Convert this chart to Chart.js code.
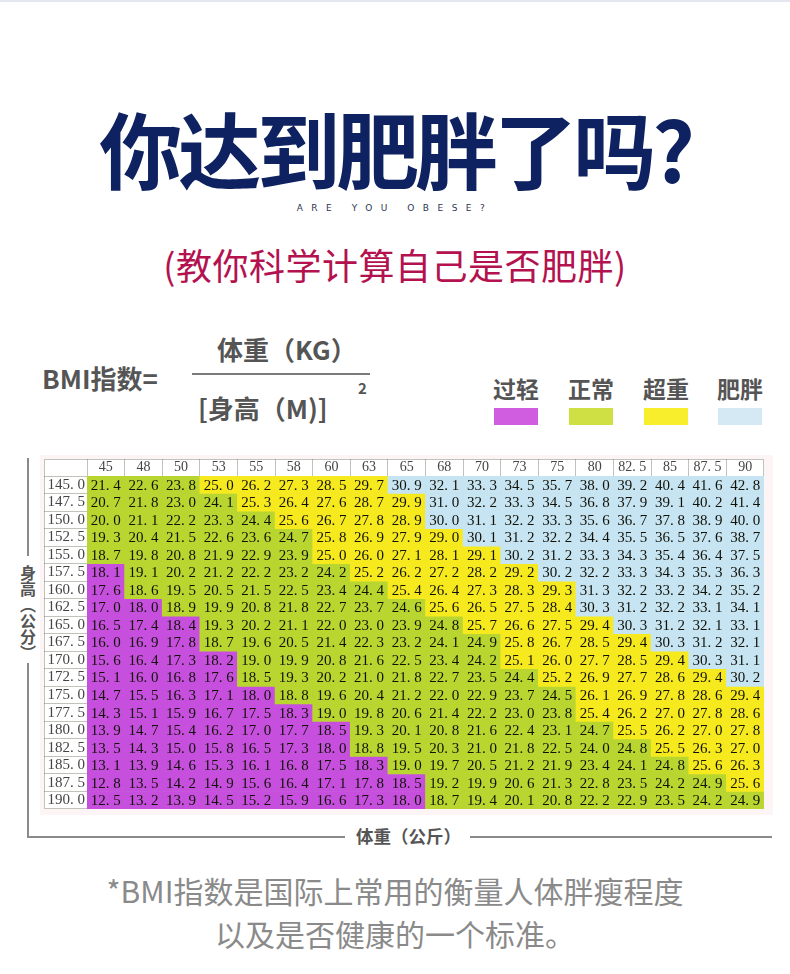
<!DOCTYPE html>
<html>
<head>
<meta charset="utf-8">
<script src="https://cdn.jsdelivr.net/npm/chart.js@4.4.0/dist/chart.umd.min.js"></script>
<style>
  body { margin: 0; width: 790px; height: 974px; background: #fff; position: relative; overflow: hidden;
         font-family: "Noto Sans CJK SC", "Noto Sans", sans-serif; }
  .abs { position: absolute; white-space: nowrap; }
  .center { left: 0; width: 790px; text-align: center; }
  #topline { left: 0; top: 0; width: 790px; height: 2px; background: #e4e7ef; }
  #title { top: 105px; font-size: 83px; line-height: 84px; font-weight: 700; color: #0e2160; letter-spacing: -4px; }
  #eng { top: 203px; font-size: 9px; line-height: 10px; color: #2d3550; letter-spacing: 8.5px; font-family: "DejaVu Sans", sans-serif; }
  #sub { top: 244px; font-size: 36px; line-height: 40px; color: #b3124f; letter-spacing: 0.5px; }
  .gray { color: #555; font-weight: 700; }
  #bmi { left: 42px; top: 364px; font-size: 26px; line-height: 28px; }
  #num { left: 217px; top: 335px; font-size: 26px; line-height: 28px; }
  #frac { left: 192px; top: 373px; width: 178px; height: 2px; background: #7a7a7a; }
  #den { left: 198px; top: 394px; font-size: 26px; line-height: 28px; }
  #sup { left: 358px; top: 380px; font-size: 15px; line-height: 16px; }
  .lg { top: 375px; width: 80px; text-align: center; font-size: 23px; line-height: 26px; }
  .sw { top: 408px; width: 44px; height: 17px; }
  #tableBg { left: 40px; top: 455px; width: 733px; height: 360px; background: #fcf4f5; }
  #chartBox { left: 44px; top: 459px; width: 720px; height: 350px; }
  .line { background: #8a8a8a; }
  #hLabel { left: 19px; top: 565px; font-size: 16px; line-height: 18px; writing-mode: vertical-rl; }
  #wLabel { left: 356px; top: 825px; font-size: 17.5px; line-height: 22px; }
  .foot { font-size: 30px; line-height: 34px; color: #8a8a8a; font-weight: 400; }
</style>
</head>
<body>
<div id="topline" class="abs"></div>
<div id="title" class="abs center">你达到肥胖了吗?</div>
<div id="eng" class="abs center">ARE YOU OBESE?</div>
<div id="sub" class="abs center">(教你科学计算自己是否肥胖)</div>

<div id="bmi" class="abs gray">BMI指数=</div>
<div id="num" class="abs gray">体重（KG）</div>
<div id="frac" class="abs"></div>
<div id="den" class="abs gray">[身高（M)]</div>
<div id="sup" class="abs gray">2</div>

<div id="legend"></div>

<div id="tableBg" class="abs"></div>
<div id="chartBox" class="abs"><canvas id="bmiChart"></canvas></div>

<div class="abs line" style="left:27px;top:458px;width:2px;height:98px"></div>
<div class="abs line" style="left:27px;top:663px;width:2px;height:175px"></div>
<div id="hLabel" class="abs gray">身高（公分）</div>
<div class="abs line" style="left:27px;top:836px;width:318px;height:2px"></div>
<div id="wLabel" class="abs gray">体重（公斤）</div>
<div class="abs line" style="left:470px;top:836px;width:302px;height:2px"></div>

<div class="abs center foot" style="top:873px">*BMI指数是国际上常用的衡量人体胖瘦程度</div>
<div class="abs center foot" style="top:916px">以及是否健康的一个标准。</div>

<script>
// body weight in kg (columns) and height in cm (rows)
const weights = ['45', '48', '50', '53', '55', '58', '60', '63', '65', '68', '70', '73', '75', '80', '82.5', '85', '87.5', '90'];
const heights = ['145.0', '147.5', '150.0', '152.5', '155.0', '157.5', '160.0', '162.5', '165.0', '167.5',
                 '170.0', '172.5', '175.0', '177.5', '180.0', '182.5', '185.0', '187.5', '190.0'];

// BMI values, one line per height row
const bmiValues = [
  [21.4, 22.6, 23.8, 25.0, 26.2, 27.3, 28.5, 29.7, 30.9, 32.1, 33.3, 34.5, 35.7, 38.0, 39.2, 40.4, 41.6, 42.8],
  [20.7, 21.8, 23.0, 24.1, 25.3, 26.4, 27.6, 28.7, 29.9, 31.0, 32.2, 33.3, 34.5, 36.8, 37.9, 39.1, 40.2, 41.4],
  [20.0, 21.1, 22.2, 23.3, 24.4, 25.6, 26.7, 27.8, 28.9, 30.0, 31.1, 32.2, 33.3, 35.6, 36.7, 37.8, 38.9, 40.0],
  [19.3, 20.4, 21.5, 22.6, 23.6, 24.7, 25.8, 26.9, 27.9, 29.0, 30.1, 31.2, 32.2, 34.4, 35.5, 36.5, 37.6, 38.7],
  [18.7, 19.8, 20.8, 21.9, 22.9, 23.9, 25.0, 26.0, 27.1, 28.1, 29.1, 30.2, 31.2, 33.3, 34.3, 35.4, 36.4, 37.5],
  [18.1, 19.1, 20.2, 21.2, 22.2, 23.2, 24.2, 25.2, 26.2, 27.2, 28.2, 29.2, 30.2, 32.2, 33.3, 34.3, 35.3, 36.3],
  [17.6, 18.6, 19.5, 20.5, 21.5, 22.5, 23.4, 24.4, 25.4, 26.4, 27.3, 28.3, 29.3, 31.3, 32.2, 33.2, 34.2, 35.2],
  [17.0, 18.0, 18.9, 19.9, 20.8, 21.8, 22.7, 23.7, 24.6, 25.6, 26.5, 27.5, 28.4, 30.3, 31.2, 32.2, 33.1, 34.1],
  [16.5, 17.4, 18.4, 19.3, 20.2, 21.1, 22.0, 23.0, 23.9, 24.8, 25.7, 26.6, 27.5, 29.4, 30.3, 31.2, 32.1, 33.1],
  [16.0, 16.9, 17.8, 18.7, 19.6, 20.5, 21.4, 22.3, 23.2, 24.1, 24.9, 25.8, 26.7, 28.5, 29.4, 30.3, 31.2, 32.1],
  [15.6, 16.4, 17.3, 18.2, 19.0, 19.9, 20.8, 21.6, 22.5, 23.4, 24.2, 25.1, 26.0, 27.7, 28.5, 29.4, 30.3, 31.1],
  [15.1, 16.0, 16.8, 17.6, 18.5, 19.3, 20.2, 21.0, 21.8, 22.7, 23.5, 24.4, 25.2, 26.9, 27.7, 28.6, 29.4, 30.2],
  [14.7, 15.5, 16.3, 17.1, 18.0, 18.8, 19.6, 20.4, 21.2, 22.0, 22.9, 23.7, 24.5, 26.1, 26.9, 27.8, 28.6, 29.4],
  [14.3, 15.1, 15.9, 16.7, 17.5, 18.3, 19.0, 19.8, 20.6, 21.4, 22.2, 23.0, 23.8, 25.4, 26.2, 27.0, 27.8, 28.6],
  [13.9, 14.7, 15.4, 16.2, 17.0, 17.7, 18.5, 19.3, 20.1, 20.8, 21.6, 22.4, 23.1, 24.7, 25.5, 26.2, 27.0, 27.8],
  [13.5, 14.3, 15.0, 15.8, 16.5, 17.3, 18.0, 18.8, 19.5, 20.3, 21.0, 21.8, 22.5, 24.0, 24.8, 25.5, 26.3, 27.0],
  [13.1, 13.9, 14.6, 15.3, 16.1, 16.8, 17.5, 18.3, 19.0, 19.7, 20.5, 21.2, 21.9, 23.4, 24.1, 24.8, 25.6, 26.3],
  [12.8, 13.5, 14.2, 14.9, 15.6, 16.4, 17.1, 17.8, 18.5, 19.2, 19.9, 20.6, 21.3, 22.8, 23.5, 24.2, 24.9, 25.6],
  [12.5, 13.2, 13.9, 14.5, 15.2, 15.9, 16.6, 17.3, 18.0, 18.7, 19.4, 20.1, 20.8, 22.2, 22.9, 23.5, 24.2, 24.9]
];

const classNames = ['过轻', '正常', '超重', '肥胖'];
const legendColors = ['#d05ddf', '#cfe044', '#f8ee2b', '#d4e9f3'];
const cellColors = ['#c650dd', '#b9d52f', '#f6ea1e', '#c6e4f1'];
// the source table marks this one 18.5 cell as normal
const colorOverrides = [{ height: '172.5', weight: '55', cls: 1 }];

function cellClass(r, c) {
  const ov = colorOverrides.find(o => o.height === heights[r] && o.weight === weights[c]);
  if (ov) return ov.cls;
  const v = bmiValues[r][c];
  if (v >= 30) return 3;
  if (v >= 25) return 2;
  if (v > 18.5) return 1;
  return 0;
}

// legend above the table
const legendX = [494, 569, 644, 718];
let lgHtml = '';
classNames.forEach((name, i) => {
  lgHtml += `<div class="abs lg gray" style="left:${legendX[i] - 18}px">${name}</div>`;
  lgHtml += `<div class="abs sw" style="left:${legendX[i]}px;background:${legendColors[i]}"></div>`;
});
document.getElementById('legend').innerHTML = lgHtml;

const gridColor = 'rgba(95, 95, 80, 0.38)';
const spaced = s => s.replace('.', '. ');

const datasets = heights.map((h, r) => ({
  label: h,
  data: weights.map(() => [r, r + 1]),
  backgroundColor: weights.map((w, c) => cellColors[cellClass(r, c)]),
  borderWidth: 0,
  grouped: false,
  barPercentage: 1,
  categoryPercentage: 1,
  yAxisID: 'y'
}));

const whiteBack = {
  id: 'whiteBack',
  beforeDraw(chart) {
    const ctx = chart.ctx;
    ctx.save();
    ctx.fillStyle = '#fff';
    ctx.fillRect(0, 0, chart.width, chart.height);
    ctx.strokeStyle = gridColor;
    ctx.strokeRect(0.5, 0.5, chart.width - 1, chart.height - 1);
    ctx.restore();
  }
};

const cellText = {
  id: 'cellText',
  afterDatasetsDraw(chart) {
    const ctx = chart.ctx;
    ctx.save();
    ctx.font = '15px "Liberation Serif", serif';
    ctx.fillStyle = '#111108';
    ctx.textAlign = 'center';
    ctx.textBaseline = 'middle';
    chart.data.datasets.forEach((ds, r) => {
      chart.getDatasetMeta(r).data.forEach((bar, c) => {
        ctx.fillText(spaced(bmiValues[r][c].toFixed(1)), bar.x, (bar.y + bar.base) / 2 + 1);
      });
    });
    ctx.restore();
  }
};

new Chart(document.getElementById('bmiChart'), {
  type: 'bar',
  data: { labels: weights, datasets: datasets },
  options: {
    responsive: true,
    maintainAspectRatio: false,
    animation: false,
    layout: { padding: 0 },
    plugins: { legend: { display: false }, tooltip: { enabled: false } },
    scales: {
      x: {
        type: 'category',
        position: 'top',
        offset: true,
        z: 1,
        grid: { offset: true, color: gridColor, tickLength: 17 },
        border: { display: true, color: gridColor },
        ticks: {
          color: '#444',
          font: { family: 'Liberation Serif', size: 14 },
          padding: -17,
          maxRotation: 0,
          autoSkip: false,
          callback: function (v, i) { return spaced(weights[i]); }
        },
        afterFit(s) { s.height = 17; }
      },
      y: { type: 'linear', min: 0, max: 19, reverse: true, display: false },
      h: {
        type: 'category',
        axis: 'y',
        position: 'left',
        labels: heights,
        offset: true,
        z: 1,
        grid: { offset: true, color: gridColor, tickLength: 43 },
        border: { display: true, color: gridColor },
        ticks: {
          color: '#444',
          font: { family: 'Liberation Serif', size: 15 },
          padding: -41,
          autoSkip: false,
          callback: function (v, i) { return spaced(heights[i]); }
        },
        afterFit(s) { s.width = 43; }
      }
    }
  },
  plugins: [whiteBack, cellText]
});
</script>
</body>
</html>
